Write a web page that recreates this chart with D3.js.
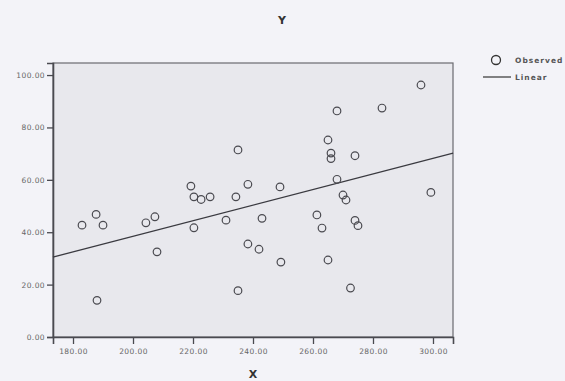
<!DOCTYPE html>
<html><head><meta charset="utf-8">
<script src="https://cdn.jsdelivr.net/npm/d3@7"></script>
<style>html,body{margin:0;padding:0;background:#f3f3f8;overflow:hidden}</style>
</head><body>
<script>
const xVals = [183,187.7,190,204.3,207.3,208,188,219.3,220.3,222.7,225.7,220.3,231,234.3,235,238.3,238.3,242,243,235,249,249.3,261.3,263,265,266,266,268,268,270,271,274,274,275,265,272.5,283,296,299.3];
const yVals = [42.7,46.8,42.7,43.6,45.9,32.5,14,57.6,53.5,52.5,53.5,41.7,44.6,53.5,71.4,58.3,35.5,33.5,45.3,17.7,57.3,28.6,46.6,41.6,75.2,70.2,68.1,86.3,60.2,54.2,52.3,69.2,44.5,42.5,29.4,18.7,87.4,96.2,55.2];
const fitX = [173.3,306.7];
const fitY = [30.5,70.2];
const xTicks = [180,200,220,240,260,280,300];
const yTicks = [0,20,40,60,80,100];
const legendItems = ["Observed","Linear"];

const W=565,H=381;
const svg=d3.select("body").append("svg").attr("width",W).attr("height",H);
const L=53,R=453,T=63,B=337;
const x=d3.scaleLinear().domain([173.33,306.67]).range([L,R]);
const y=d3.scaleLinear().domain([0,104.6]).range([B,T]);

svg.append("rect").attr("x",L).attr("y",T).attr("width",R-L).attr("height",B-T).attr("fill","#e8e8ed").attr("stroke","#6a6a70").attr("stroke-width",1.2);

const fmt=d=>d.toFixed(2);
const xa=svg.append("g").attr("transform",`translate(0,${B})`).call(d3.axisBottom(x).tickValues(xTicks).tickFormat(fmt).tickSize(7).tickPadding(5));
const ya=svg.append("g").attr("transform",`translate(${L},0)`).call(d3.axisLeft(y).tickValues(yTicks).tickFormat(fmt).tickSize(6).tickPadding(2));
[xa,ya].forEach(a=>{
  a.select(".domain").attr("stroke","#4a4a50").attr("stroke-width",1.6);
  a.selectAll(".tick line").attr("stroke","#4a4a50").attr("stroke-width",1.3);
  a.selectAll("text").attr("fill","#666").style("font-family","DejaVu Sans").style("font-size","7.5px").style("letter-spacing","0.4px");
});

svg.append("line")
  .attr("x1",x(fitX[0])).attr("y1",y(fitY[0])).attr("x2",x(fitX[1])).attr("y2",y(fitY[1]))
  .attr("stroke","#3a3a40").attr("stroke-width",1.3);

svg.append("g").selectAll("circle").data(xVals.map((v,i)=>[v,yVals[i]])).join("circle")
  .attr("cx",d=>x(d[0])).attr("cy",d=>y(d[1])).attr("r",3.8)
  .attr("fill","none").attr("stroke","#4a4a50").attr("stroke-width",1.2);

svg.append("text").attr("x",282).attr("y",24).attr("text-anchor","middle").style("font-family","DejaVu Sans").style("font-weight","bold").style("font-size","11px").attr("fill","#333").text("Y");
svg.append("text").attr("x",253).attr("y",378).attr("text-anchor","middle").style("font-family","DejaVu Sans").style("font-weight","bold").style("font-size","11px").attr("fill","#333").text("X");

const lg=svg.append("g");
lg.append("circle").attr("cx",496).attr("cy",60).attr("r",4.5).attr("fill","none").attr("stroke","#333").attr("stroke-width",1.3);
lg.append("line").attr("x1",483).attr("x2",511).attr("y1",77).attr("y2",77).attr("stroke","#333").attr("stroke-width",1.2);
lg.selectAll("text").data(legendItems).join("text").attr("x",515).attr("y",(d,i)=>i?79.5:62.5)
  .style("font-family","DejaVu Sans").style("font-size","7.5px").style("font-weight","bold").style("letter-spacing","1px").attr("fill","#555").text(d=>d);
</script>
</body></html>
